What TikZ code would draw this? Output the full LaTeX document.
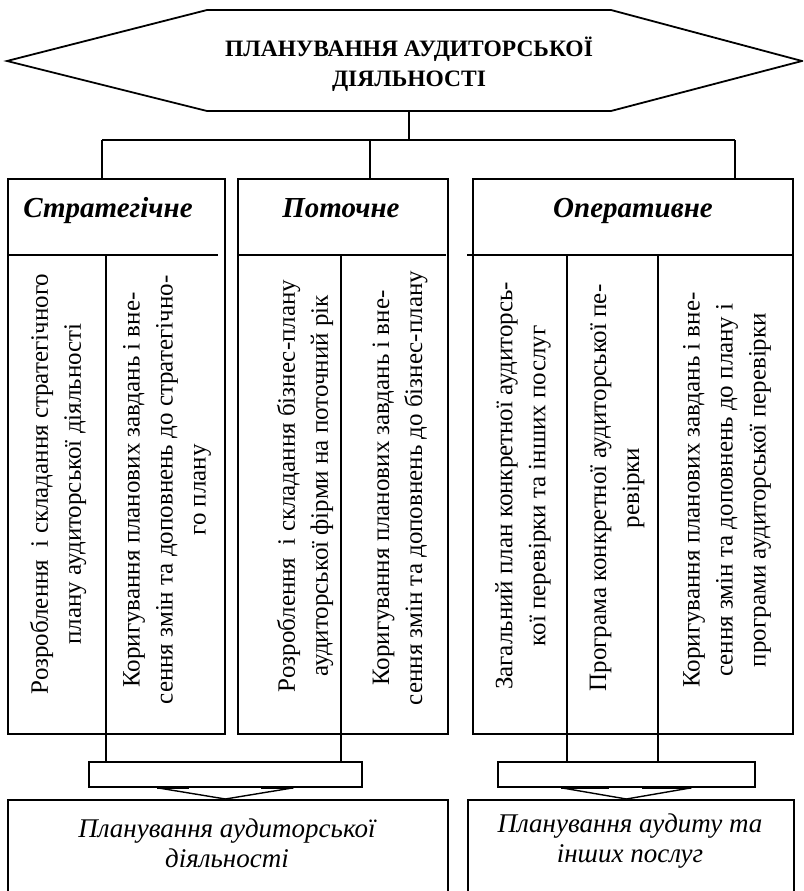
\documentclass[tikz,border=0pt]{standalone}
\usepackage{fontspec}
\setmainfont{Liberation Serif}
\begin{document}
\begin{tikzpicture}[x=1pt,y=-1pt,
  frame/.style={draw, line width=1.8pt, inner sep=0pt, anchor=north west},
  link/.style={line width=1.4pt},
  basebit/.style={line width=3pt},
  title/.style={align=center, inner sep=0pt, font=\fontsize{23.5}{30}\selectfont\bfseries},
  head/.style={anchor=base, inner sep=0pt, font=\fontsize{29}{32}\selectfont\bfseries\itshape},
  vtext/.style={rotate=90, align=center, inner sep=0pt, font=\fontsize{25}{33}\selectfont},
  result/.style={align=center, inner sep=0pt, font=\fontsize{27}{30}\selectfont\itshape}]
\useasboundingbox (0,0) rectangle (803,891);
\clip (0,0) rectangle (803,891);

% top hexagon with the title
\draw[line width=1.8pt] (7,61) -- (207,10) -- (611,10) -- (802,61) -- (611,111) -- (207,111) -- cycle;
\node[title] (title) at (409,64) {ПЛАНУВАННЯ АУДИТОРСЬКОЇ\\ДІЯЛЬНОСТІ};
\coordinate (hexbot) at (409,111);

% the three kinds of planning
\node[frame, minimum width=217pt, minimum height=555pt] (strat) at (7,178) {};
\node[frame, minimum width=210pt, minimum height=555pt] (poto) at (237,178) {};
\node[frame, minimum width=320pt, minimum height=555pt] (oper) at (472,178) {};

\node[head] (hstrat) at (108,217) {Стратегічне};
\node[head] (hpoto) at (341,217) {Поточне};
\node[head] (hoper) at (633,217) {Оперативне};

% branching from the title
\coordinate (bus) at (409,140);
\coordinate (busL) at (102,140);
\coordinate (busM) at (370,140);
\coordinate (busR) at (735,140);
\draw[link] (hexbot) -- (bus);
\draw[link] (busL) -- (busR);
\draw[link] (busL) -- (busL |- strat.north);
\draw[link] (busM) -- (busM |- poto.north);
\draw[link] (busR) -- (busR |- oper.north);

% header rules
\draw[link] (7,255) -- (218,255);
\draw[link] (237,255) -- (446,255);
\draw[link] (467,255) -- (792,255);

% collecting bars
\node[frame, minimum width=273pt, minimum height=25pt] (barL) at (88,761) {};
\node[frame, minimum width=257pt, minimum height=25pt] (barR) at (497,761) {};

% column rules running down into the bars
\coordinate (c1) at (106,255);
\coordinate (c2) at (341,255);
\coordinate (c3) at (567,255);
\coordinate (c4) at (658,255);
\foreach \c in {c1,c2}{\draw[link] (\c) -- (\c |- barL.north);}
\foreach \c in {c3,c4}{\draw[link] (\c) -- (\c |- barR.north);}

% column texts
\node[vtext] (s1) at (58,484) {Розроблення~ і складання стратегічного\\плану аудиторської діяльності};
\node[vtext] (s2) at (167,490) {Коригування планових завдань і вне-\\сення змін та доповнень до стратегічно-\\го плану};
\node[vtext] (p1) at (305,486) {Розроблення~ і складання бізнес-плану\\аудиторської фірми на поточний рік};
\node[vtext] (p2) at (400,488) {Коригування планових завдань і вне-\\сення змін та доповнень до бізнес-плану};
\node[vtext] (o1) at (523,486) {Загальний план конкретної аудиторсь-\\кої перевірки та інших послуг};
\node[vtext] (o2) at (617,488) {Програма конкретної аудиторської пе-\\ревірки};
\node[vtext] (o3) at (727,490) {Коригування планових завдань і вне-\\сення змін та доповнень до плану і\\програми аудиторської перевірки};

% resulting plans
\node[frame, minimum width=440pt, minimum height=140pt] (botL) at (7,799) {};
\node[frame, minimum width=326pt, minimum height=140pt] (botR) at (467,799) {};
\node[result] (tL) at (227,843) {Планування аудиторської\\діяльності};
\node[result] (tR) at (630,841) {Планування аудиту та\\інших послуг};

% arrowheads from the bars
\draw[link] ([xshift=-68pt]barL.south) -- (barL.south |- botL.north) -- ([xshift=68pt]barL.south);
\draw[basebit] ([xshift=-68pt]barL.south) -- ([xshift=-36pt]barL.south);
\draw[basebit] ([xshift=36pt]barL.south) -- ([xshift=68pt]barL.south);
\draw[link] ([xshift=-65pt]barR.south) -- (barR.south |- botR.north) -- ([xshift=65pt]barR.south);
\draw[basebit] ([xshift=-65pt]barR.south) -- ([xshift=-17pt]barR.south);
\draw[basebit] ([xshift=16pt]barR.south) -- ([xshift=65pt]barR.south);
\end{tikzpicture}
\end{document}
